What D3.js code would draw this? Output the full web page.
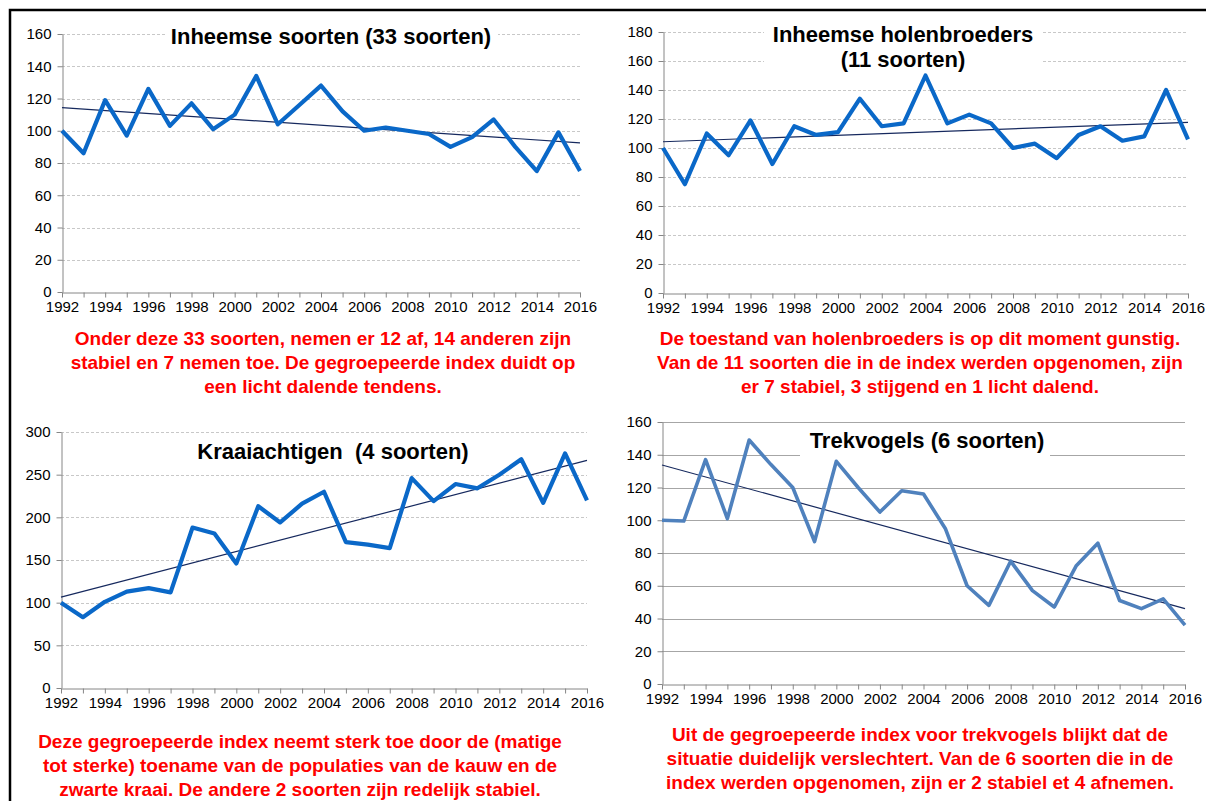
<!DOCTYPE html>
<html>
<head>
<meta charset="utf-8">
<script src="https://cdn.jsdelivr.net/npm/d3@7/dist/d3.min.js"></script>
<style>
  body { margin: 0; background: #fff; }
  svg { display: block; font-family: Arial, "Liberation Sans", sans-serif; }
</style>
</head>
<body>
<div id="container"></div>
<script>
// years on the x axis
var years = [1992, 1993, 1994, 1995, 1996, 1997, 1998, 1999, 2000, 2001, 2002, 2003, 2004,
             2005, 2006, 2007, 2008, 2009, 2010, 2011, 2012, 2013, 2014, 2015, 2016];

// index values
var inheemse      = [100, 86, 119, 97, 126, 103, 117, 101, 110, 134, 104, 116, 128,
                     112, 100, 102, 100, 98, 90, 96, 107, 90, 75, 99, 75];
var holenbroeders = [100, 75, 110, 95, 119, 89, 115, 109, 111, 134, 115, 117, 150,
                     117, 123, 117, 100, 103, 93, 109, 115, 105, 108, 140, 106];
var kraaiachtigen = [100, 83, 101, 113, 117, 112, 188, 181, 146, 213, 194, 216, 230,
                     171, 168, 164, 246, 219, 239, 234, 250, 268, 217, 275, 220];
var trekvogels    = [100, 99.5, 137, 101, 149, 134, 120, 87, 136, 120, 105, 118, 116,
                     95, 60, 48, 75, 57, 47, 72, 86, 51, 46, 52, 36];

// y tick labels
var ticks160 = [0, 20, 40, 60, 80, 100, 120, 140, 160];
var ticks180 = [0, 20, 40, 60, 80, 100, 120, 140, 160, 180];
var ticks300 = [0, 50, 100, 150, 200, 250, 300];

var titles = [
  ["Inheemse soorten (33 soorten)"],
  ["Inheemse holenbroeders", "(11 soorten)"],
  ["Kraaiachtigen  (4 soorten)"],
  ["Trekvogels (6 soorten)"]
];

var captions = [
  ["Onder deze 33 soorten, nemen er 12 af, 14 anderen zijn",
   "stabiel en 7 nemen toe. De gegroepeerde index duidt op",
   "een licht dalende tendens."],
  ["De toestand van holenbroeders is op dit moment gunstig.",
   "Van de 11 soorten die in de index werden opgenomen, zijn",
   "er 7 stabiel, 3 stijgend en 1 licht dalend."],
  ["Deze gegroepeerde index neemt sterk toe door de (matige",
   "tot sterke) toename van de populaties van de kauw en de",
   "zwarte kraai. De andere 2 soorten zijn redelijk stabiel."],
  ["Uit de gegroepeerde index voor trekvogels blijkt dat de",
   "situatie duidelijk verslechtert. Van de 6 soorten die in de",
   "index werden opgenomen, zijn er 2 stabiel et 4 afnemen."]
];

var width = 1206, height = 801;

var svg = d3.select("#container").append("svg")
    .attr("width", width)
    .attr("height", height);

// outer frame (top and left edges only)
svg.append("path")
    .attr("d", "M10,801 V10 H1206")
    .style("fill", "none")
    .style("stroke", "#000")
    .style("stroke-width", 2.5);

var panels = [
  { values: inheemse, ticks: ticks160, yMax: 160, left: 62, right: 580, top: 34, bottom: 292,
    color: "#0a68c8", lw: 4.2, grid: "#c8c8c8", dash: "3,2",
    title: titles[0], tx: 331, ty: 44, box: [165, 24, 333, 26],
    caption: captions[0], cx: 323, cy: 345 },
  { values: holenbroeders, ticks: ticks180, yMax: 180, left: 663, right: 1188, top: 32, bottom: 293,
    color: "#0a68c8", lw: 4.2, grid: "#c8c8c8", dash: "3,2",
    title: titles[1], tx: 903, ty: 42, box: [764, 20, 278, 52],
    caption: captions[1], cx: 920, cy: 345 },
  { values: kraaiachtigen, ticks: ticks300, yMax: 300, left: 61, right: 587, top: 432, bottom: 688,
    color: "#0a68c8", lw: 4.2, grid: "#c8c8c8", dash: "3,2",
    title: titles[2], tx: 333, ty: 459, box: [190, 440, 286, 26],
    caption: captions[2], cx: 300, cy: 748 },
  { values: trekvogels, ticks: ticks160, yMax: 160, left: 662, right: 1185, top: 422, bottom: 684,
    color: "#4f81bd", lw: 3.6, grid: "#a6a6a6", dash: null,
    title: titles[3], tx: 927, ty: 448, box: [800, 425, 250, 33],
    caption: captions[3], cx: 920, cy: 741 }
];

// least squares trend line, like the Excel "linear trendline"
function trend(xs, ys) {
  var mx = d3.mean(xs), my = d3.mean(ys);
  var sxy = d3.sum(xs, function(d, i) { return (d - mx) * (ys[i] - my); });
  var sxx = d3.sum(xs, function(d) { return (d - mx) * (d - mx); });
  var b = sxy / sxx, a = my - b * mx;
  return [[xs[0], a + b * xs[0]], [xs[xs.length - 1], a + b * xs[xs.length - 1]]];
}

function drawPanel(p) {
  var x = d3.scaleLinear().domain([1992, 2016]).range([p.left, p.right]);
  var y = d3.scaleLinear().domain([0, p.yMax]).range([p.bottom, p.top]);
  var g = svg.append("g");

  // gridlines
  g.selectAll(".grid")
    .data(p.ticks.filter(function(d) { return d > 0; }))
    .enter().append("line")
      .attr("x1", p.left).attr("x2", p.right)
      .attr("y1", function(d) { return Math.round(y(d)) + 0.5; })
      .attr("y2", function(d) { return Math.round(y(d)) + 0.5; })
      .style("stroke", p.grid)
      .style("stroke-width", 1)
      .style("stroke-dasharray", p.dash);

  // white box behind the title
  g.append("rect")
    .attr("x", p.box[0]).attr("y", p.box[1])
    .attr("width", p.box[2]).attr("height", p.box[3])
    .style("fill", "#fff");

  // y axis
  var yAxis = d3.axisLeft(y).tickValues(p.ticks).tickSize(5).tickSizeOuter(0).tickPadding(6);
  var ya = g.append("g")
    .attr("transform", "translate(" + (Math.round(p.left) + 0.5) + ",0)")
    .call(yAxis);

  // x axis, a tick every year, a label every other year
  var xAxis = d3.axisBottom(x).tickValues(years).tickSize(5).tickSizeOuter(0).tickPadding(4)
    .tickFormat(function(d) { return d % 2 === 0 ? d : ""; });
  var xa = g.append("g")
    .attr("transform", "translate(0," + (Math.round(p.bottom) + 0.5) + ")")
    .call(xAxis);

  [ya, xa].forEach(function(a) {
    a.select(".domain").style("stroke", "#868686");
    a.selectAll(".tick line").style("stroke", "#868686");
    a.selectAll(".tick text")
      .style("font-family", "Arial, 'Liberation Sans', sans-serif")
      .style("font-size", "15px")
      .style("fill", "#000");
  });

  // trend line
  var t = trend(years, p.values);
  g.append("path")
    .datum(t)
    .attr("d", d3.line().x(function(d) { return x(d[0]); }).y(function(d) { return y(d[1]); }))
    .style("fill", "none")
    .style("stroke", "#16295e")
    .style("stroke-width", 1.2);

  // data line
  g.append("path")
    .datum(p.values)
    .attr("d", d3.line()
      .x(function(d, i) { return x(years[i]); })
      .y(function(d) { return y(d); }))
    .style("fill", "none")
    .style("stroke", p.color)
    .style("stroke-width", p.lw)
    .style("stroke-linejoin", "round");

  // title
  g.selectAll(".title")
    .data(p.title)
    .enter().append("text")
      .attr("x", p.tx)
      .attr("y", function(d, i) { return p.ty + i * 25; })
      .attr("text-anchor", "middle")
      .style("font-size", "22px")
      .style("font-weight", "bold")
      .style("white-space", "pre")
      .attr("xml:space", "preserve")
      .text(function(d) { return d; });

  // red caption below the chart
  g.selectAll(".caption")
    .data(p.caption)
    .enter().append("text")
      .attr("x", p.cx)
      .attr("y", function(d, i) { return p.cy + i * 24; })
      .attr("text-anchor", "middle")
      .style("font-size", "19px")
      .style("font-weight", "bold")
      .style("fill", "#ff0000")
      .text(function(d) { return d; });
}

panels.forEach(drawPanel);
</script>
</body>
</html>
